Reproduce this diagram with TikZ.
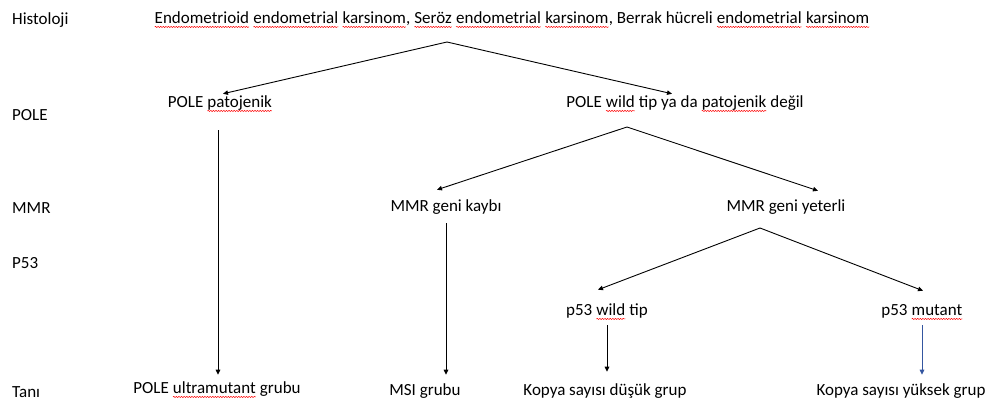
\documentclass[tikz,border=0pt]{standalone}
\usepackage{fontspec}
\setmainfont{Carlito}
\usetikzlibrary{arrows.meta, decorations.pathmorphing}

\definecolor{wordblue}{RGB}{52,86,160}

% red spell-check wave under a word
\newcommand\sq[1]{\tikz[baseline=(sqw.base)]{%
  \node[inner sep=0pt, outer sep=0pt] (sqw) {#1};
  \draw[red, line width=0.5pt, decorate, decoration={snake, amplitude=0.6pt, segment length=2.6pt}]
    ([yshift=-3.2pt]sqw.base west) -- ([yshift=-3.2pt]sqw.base east);}}

\begin{document}
\begin{tikzpicture}[x=1pt, y=-1pt,
    font=\fontsize{17}{20}\selectfont,
    >={Triangle[length=5pt,width=4.5pt]},
    lvl/.style={anchor=west, inner sep=0pt},
    box/.style={inner sep=0pt, outer sep=3pt, text height=11pt, text depth=3.5pt},
    link/.style={->, line width=0.9pt}]
  \useasboundingbox (0,0) rectangle (989,403);

  % Row labels
  \node[lvl] (hist) at (12,20) {Histoloji};
  \node[lvl] (lpole) at (12,115) {POLE};
  \node[lvl] (lmmr) at (12,208) {MMR};
  \node[lvl] (lp53) at (12,263) {P53};
  \node[lvl] (ltani) at (12,392) {Tanı};

  % Histology
  \node[box] (histo) at (512,20)
    {\sq{Endometrioid} \sq{endometrial} \sq{karsinom}, \sq{Seröz} \sq{endometrial} \sq{karsinom}, Berrak hücreli \sq{endometrial} \sq{karsinom}};

  % POLE level
  \node[box] (pat) at (220,104) {POLE \sq{patojenik}};
  \node[box] (wt) at (685,104) {POLE \sq{wild} tip ya da \sq{patojenik} değil};

  % MMR level
  \node[box] (kayb) at (446,208) {MMR geni kaybı};
  \node[box] (yet) at (786,208) {MMR geni yeterli};

  % p53 level
  \node[box] (pwt) at (607,312) {p53 \sq{wild} tip};
  \node[box] (pmut) at (922,312) {p53 \sq{mutant}};

  % Diagnosis
  \node[box] (ultra) at (217,390) {POLE \sq{ultramutant} grubu};
  \node[box] (msi) at (425,392) {MSI grubu};
  \node[box] (dusuk) at (605,392) {Kopya sayısı düşük grup};
  \node[box] (yuksek) at (901,392) {Kopya sayısı yüksek grup};

  % Branch points
  \coordinate (j1) at (447,42);
  \coordinate (j2) at (627,127);
  \coordinate (j3) at (760,228);

  \draw[link] (j1) -- ([xshift=3pt]pat.north);
  \draw[link] (j1) -- ([xshift=-13pt]wt.north);
  \draw[link] (j2) -- ([xshift=-9pt,yshift=8pt]kayb.north);
  \draw[link] (j2) -- ([xshift=32pt,yshift=7pt]yet.north);
  \draw[link] (j3) -- ([xshift=-9pt,yshift=12pt]pwt.north);
  \draw[link] (j3) -- ([xshift=1pt,yshift=11pt]pmut.north);

  % Straight down to the groups
  \draw[link, shorten <=16pt, shorten >=5pt] ([xshift=-2pt]pat.south) -- ([xshift=1pt]ultra.north);
  \draw[link, shorten <=5pt, shorten >=7pt] (kayb.south) -- (kayb.south |- msi.north);
  \draw[link, shorten <=3pt, shorten >=10pt] (pwt.south) -- (pwt.south |- dusuk.north);
  \draw[link, wordblue, shorten <=3pt, shorten >=7pt] (pmut.south) -- (pmut.south |- yuksek.north);

\end{tikzpicture}
\end{document}
